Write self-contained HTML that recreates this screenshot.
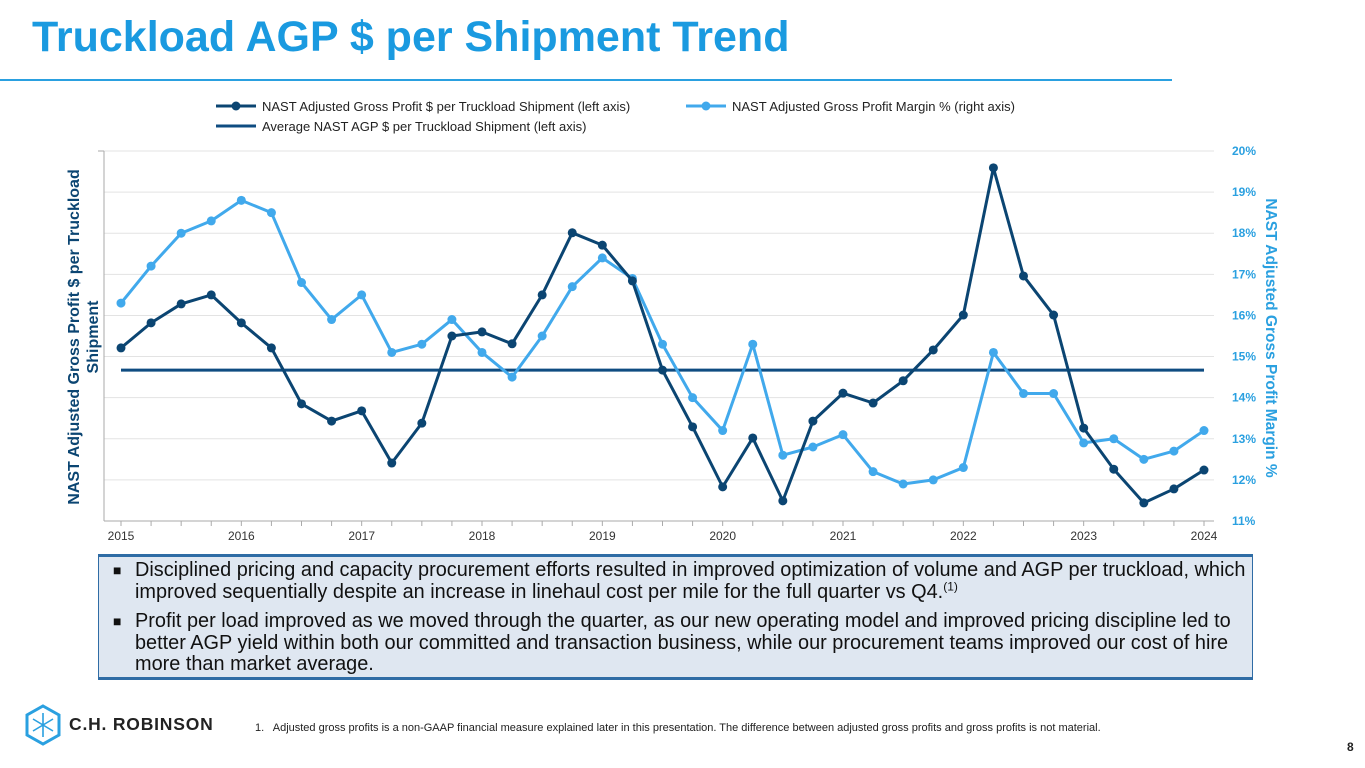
<!DOCTYPE html>
<html><head><meta charset="utf-8"><style>
body{margin:0;width:1365px;height:768px;overflow:hidden;background:#fff;font-family:"Liberation Sans",Arial,sans-serif;position:relative}
.abs{position:absolute}
</style></head><body>
<div class="abs" style="left:32px;top:13px;font-size:43px;font-weight:bold;color:#1a9ae0">Truckload AGP $ per Shipment Trend</div>
<div class="abs" style="left:0;top:79px;width:1172px;height:2px;background:#2aa0e0"></div>
<svg class="abs" style="left:0;top:0" width="1365" height="560" id="chart"></svg>
<div class="abs" style="left:98px;top:554px;width:1153px;height:120px;background:#dfe7f1;border-top:3px solid #2f6ca5;border-bottom:3px solid #2f6ca5;border-left:1px solid #2f6ca5;border-right:1px solid #2f6ca5;font-size:19.9px;line-height:21.5px;color:#111">
<div style="position:absolute;left:14px;top:3px;width:1122px;padding-left:22px"><span style="position:absolute;left:0;font-size:14px">■</span>Disciplined pricing and capacity procurement efforts resulted in improved optimization of volume and AGP per truckload, which improved sequentially despite an increase in linehaul cost per mile for the full quarter vs Q4.<sup style="font-size:12px;line-height:0">(1)</sup></div>
<div style="position:absolute;left:14px;top:54px;width:1122px;padding-left:22px"><span style="position:absolute;left:0;font-size:14px">■</span>Profit per load improved as we moved through the quarter, as our new operating model and improved pricing discipline led to better AGP yield within both our committed and transaction business, while our procurement teams improved our cost of hire more than market average.</div>
</div>
<svg class="abs" style="left:24px;top:704px" width="38" height="42" viewBox="0 0 38 42">
<polygon points="19,2 35,11 35,31 19,40 3,31 3,11" fill="none" stroke="#2aa0e0" stroke-width="3"/>
<path d="M19,9V33M9,15L29,27M29,15L9,27" stroke="#2aa0e0" stroke-width="1.6" fill="none"/>
</svg>
<div class="abs" style="left:69px;top:714px;font-size:17.5px;font-weight:bold;letter-spacing:0.8px;color:#222">C.H. ROBINSON</div>
<div class="abs" style="left:255px;top:722px;font-size:11px;color:#222">1.&nbsp;&nbsp; Adjusted gross profits is a non-GAAP financial measure explained later in this presentation. The difference between adjusted gross profits and gross profits is not material.</div>
<div class="abs" style="left:1347px;top:740px;font-size:12px;font-weight:bold;color:#222">8</div>
<script>
const years=["2015","2016","2017","2018","2019","2020","2021","2022","2023","2024"];
const agpPerShipment=[4.21,4.82,5.28,5.50,4.82,4.21,2.85,2.43,2.68,1.41,2.38,4.50,4.60,4.31,5.50,7.01,6.71,5.84,3.67,2.29,0.83,2.02,0.49,2.43,3.11,2.87,3.41,4.16,5.01,8.59,5.96,5.01,2.26,1.26,0.44,0.78,1.24];
const marginPct=[16.3,17.2,18.0,18.3,18.8,18.5,16.8,15.9,16.5,15.1,15.3,15.9,15.1,14.5,15.5,16.7,17.4,16.9,15.3,14.0,13.2,15.3,12.6,12.8,13.1,12.2,11.9,12.0,12.3,15.1,14.1,14.1,12.9,13.0,12.5,12.7,13.2];
const averageAgp=3.67;
const rightTicks=[11,12,13,14,15,16,17,18,19,20];
const NS="http://www.w3.org/2000/svg";
const svg=document.getElementById('chart');
const X0=121,X1=1204,YT=151,YB=521;
const xq=i=>X0+(X1-X0)*i/36;
const yL=v=>YB-(YB-YT)*v/9;
const yR=v=>YB-(YB-YT)*(v-11)/9;
function el(t,a,parent){const e=document.createElementNS(NS,t);for(const k in a)e.setAttribute(k,a[k]);(parent||svg).appendChild(e);return e;}
rightTicks.forEach(t=>{
const g=el('line',{x1:104,x2:1214,y1:yR(t),y2:yR(t),stroke:t===11?'#aaa':'#e3e3e3','stroke-width':1});


const tx=el('text',{x:1232,y:yR(t)+4,'font-size':12,fill:'#2aa0e0','font-weight':'bold'});
tx.textContent=t+'%';


});
const ax=el('line',{x1:104,x2:104,y1:YT,y2:YB,stroke:'#aaa'});


el('line',{x1:98,x2:104,y1:YT,y2:YT,stroke:'#aaa'});
for(let i=0;i<37;i++){el('line',{x1:xq(i),x2:xq(i),y1:YB,y2:YB+5,stroke:'#aaa'});}
years.forEach((y,i)=>{const t=el('text',{x:xq(i*4),y:540,'font-size':12,fill:'#333','text-anchor':'middle'});t.textContent=y;

});
const avg=el('line',{x1:xq(0),x2:xq(36),y1:yL(averageAgp),y2:yL(averageAgp),stroke:'#0f4c81','stroke-width':3});


function series(vals,fy,color,name){
const p=el('polyline',{points:vals.map((v,i)=>xq(i)+','+fy(v)).join(' '),fill:'none',stroke:color,'stroke-width':3,'stroke-linejoin':'round'});


vals.forEach((v,i)=>{const c=el('circle',{cx:xq(i),cy:fy(v),r:4.5,fill:color});

});
}
series(marginPct,yR,'#41a9ec','margin-pct');
series(agpPerShipment,yL,'#0b4572','agp-per-shipment');
el('line',{x1:216,x2:256,y1:106,y2:106,stroke:'#0b4572','stroke-width':3});el('circle',{cx:236,cy:106,r:4.5,fill:'#0b4572'});
let t=el('text',{x:262,y:111,'font-size':13,fill:'#222'});t.textContent='NAST Adjusted Gross Profit $ per Truckload Shipment (left axis)';


el('line',{x1:686,x2:726,y1:106,y2:106,stroke:'#41a9ec','stroke-width':3});el('circle',{cx:706,cy:106,r:4.5,fill:'#41a9ec'});
t=el('text',{x:732,y:111,'font-size':13,fill:'#222'});t.textContent='NAST Adjusted Gross Profit Margin % (right axis)';


el('line',{x1:216,x2:256,y1:126,y2:126,stroke:'#0f4c81','stroke-width':3});
t=el('text',{x:262,y:131,'font-size':13,fill:'#222'});t.textContent='Average NAST AGP $ per Truckload Shipment (left axis)';


t=el('text',{x:0,y:0,'font-size':16,'font-weight':'bold',fill:'#0b4572','text-anchor':'middle',transform:'translate(79,337) rotate(-90)'});
t.textContent='NAST Adjusted Gross Profit $ per Truckload';


t=el('text',{x:0,y:0,'font-size':16,'font-weight':'bold',fill:'#0b4572','text-anchor':'middle',transform:'translate(98,337) rotate(-90)'});
t.textContent='Shipment';


t=el('text',{x:0,y:0,'font-size':15.5,'font-weight':'bold',fill:'#2aa0e0','text-anchor':'middle',transform:'translate(1266,338) rotate(90)'});
t.textContent='NAST Adjusted Gross Profit Margin %';


</script>
</body></html>
